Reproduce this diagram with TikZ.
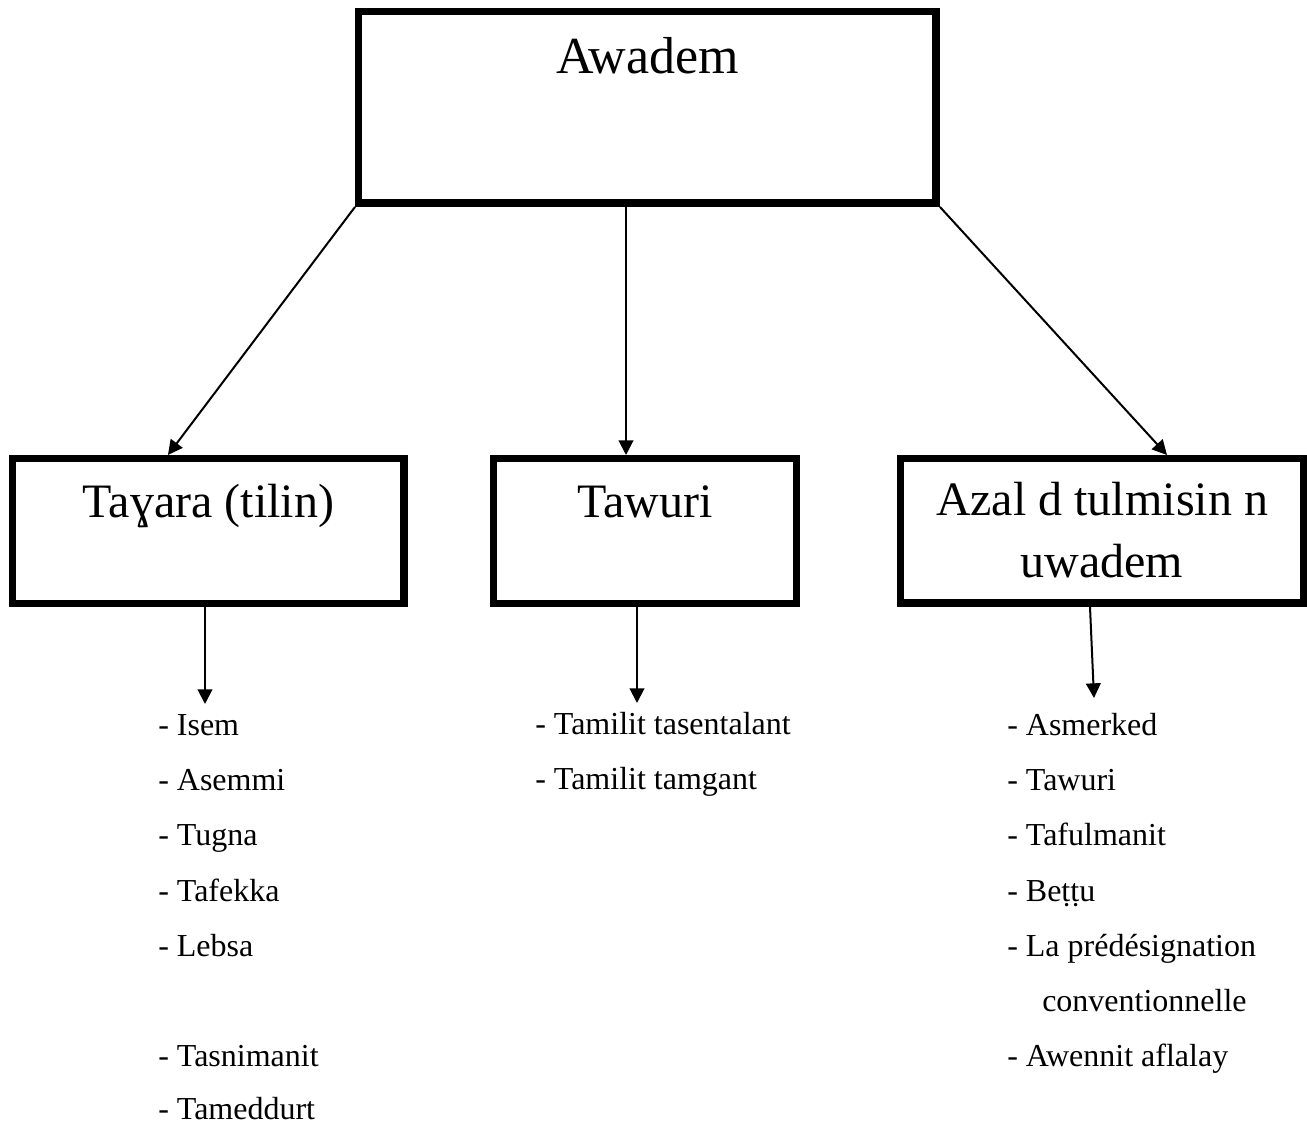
\documentclass[tikz,border=0pt]{standalone}
\usepackage{fontspec}
\setmainfont{Liberation Serif}
\usetikzlibrary{arrows.meta}
\tikzset{
  box/.style={draw, line width=5.6pt, inner sep=0pt, anchor=north west, align=center},
  item/.style={anchor=base west, inner sep=0pt, font=\fontsize{24}{28}\selectfont},
  conn/.style={line width=1.5pt, -{Triangle[length=11pt,width=11pt]}}
}

\begin{document}
\begin{tikzpicture}[x=0.75pt,y=0.75pt,yscale=-1,xscale=1]
\useasboundingbox (0,0) rectangle (1307,1124);

%Shape: Rectangle [top]
\node[box, minimum width=433.1pt, text height=46.7pt, text depth=96.9pt, font=\fontsize{39}{46}\selectfont] (awadem) at (355,8) {Awadem};
%Shape: Rectangle [left]
\node[box, minimum width=293.6pt, text height=43.7pt, text depth=64.7pt, font=\fontsize{36}{46.5}\selectfont] (tayara) at (9,455) {Taɣara (tilin)};
%Shape: Rectangle [middle]
\node[box, minimum width=226.9pt, text height=43.7pt, text depth=64.7pt, font=\fontsize{36}{46.5}\selectfont] (tawuri) at (490,455) {Tawuri};
%Shape: Rectangle [right]
\node[box, minimum width=301.9pt, text height=89.4pt, text depth=18.9pt, font=\fontsize{36}{46.5}\selectfont] (azal) at (897,455) {Azal d tulmisin n\\uwadem};

%Straight Lines
\draw[conn] (awadem.south west) -- ([xshift=-30.4pt]tayara.north);
\draw[conn] ([xshift=-16.1pt]awadem.south) -- ([xshift=-14.25pt]tawuri.north);
\draw[conn] (awadem.south east) -- ([xshift=48.75pt]azal.north);

\coordinate (tipL) at (205,704);
\coordinate (tipM) at (637,703);
\coordinate (tipR) at (1094,698);
\draw[conn] (tayara.south -| tipL) -- (tipL);
\draw[conn] (tawuri.south -| tipM) -- (tipM);
\draw[conn] ([xshift=-9pt]azal.south) -- (tipR);

% Text Node
\node[item] (isem) at (158,735) {- Isem};
\node[item] (asemmi) at (158,790) {- Asemmi};
\node[item] (tugna) at (158,845.5) {- Tugna};
\node[item] (tafekka) at (158,901) {- Tafekka};
\node[item] (lebsa) at (158,956) {- Lebsa};
\node[item] (tasnimanit) at (158,1066) {- Tasnimanit};
\node[item] (tameddurt) at (158,1119) {- Tameddurt};

% Text Node
\node[item] (tasentalant) at (535,734) {- Tamilit tasentalant};
\node[item] (tamgant) at (535,789) {- Tamilit tamgant};

% Text Node
\node[item] (asmerked) at (1007,735) {- Asmerked};
\node[item] (tawuri2) at (1007,790) {- Tawuri};
\node[item] (tafulmanit) at (1007,845.5) {- Tafulmanit};
\node[item] (bettu) at (1007,901) {- Beṭṭu};
\node[item] (predes) at (1007,956) {- La prédésignation};
\node[item] (conv) at (1042,1011) {conventionnelle};
\node[item] (awennit) at (1007,1066) {- Awennit aflalay};

\end{tikzpicture}
\end{document}
